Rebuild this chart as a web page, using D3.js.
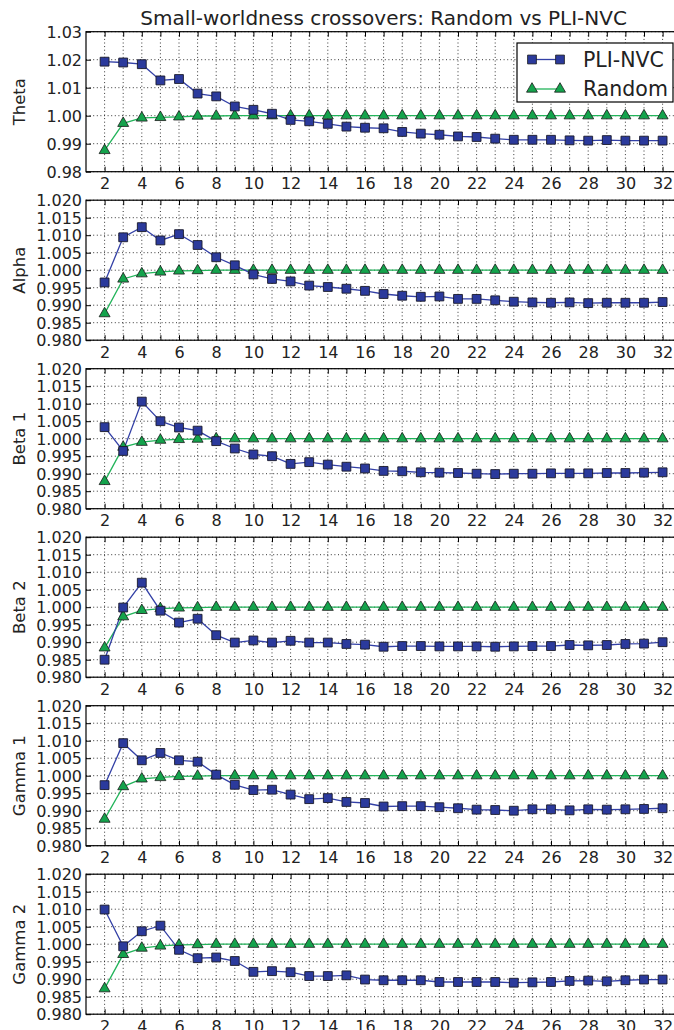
<!DOCTYPE html>
<html>
<head>
<meta charset="utf-8">
<script src="https://cdn.jsdelivr.net/npm/d3@7"></script>
<style>
  html, body { margin: 0; padding: 0; background: #fff; overflow: hidden; }
  svg { display: block; font-family: "DejaVu Sans", sans-serif; }
</style>
</head>
<body>
<div id="chart"></div>
<script>
(function () {
  'use strict';

  const title = 'Small-worldness crossovers: Random vs PLI-NVC';
  const xValues = d3.range(2, 33);
  const panelNames = ['Theta', 'Alpha', 'Beta 1', 'Beta 2', 'Gamma 1', 'Gamma 2'];

  const theta = [1.0193, 1.0190, 1.0184, 1.0126, 1.0131, 1.0079, 1.0069, 1.0033, 1.0021, 1.0007,
    0.9985, 0.9980, 0.9971, 0.9961, 0.9957, 0.9955, 0.9942, 0.9936, 0.9932, 0.9926,
    0.9924, 0.9918, 0.9914, 0.9914, 0.9914, 0.9912, 0.9911, 0.9913, 0.9911, 0.9911, 0.9911];
  const alpha = [0.9965, 1.0094, 1.0123, 1.0085, 1.0103, 1.0072, 1.0037, 1.0014, 0.9988, 0.9975,
    0.9968, 0.9956, 0.9952, 0.9947, 0.9941, 0.9932, 0.9927, 0.9924, 0.9925, 0.9918,
    0.9918, 0.9914, 0.9910, 0.9908, 0.9907, 0.9908, 0.9906, 0.9907, 0.9907, 0.9907, 0.9909];
  const beta1 = [1.0033, 0.9965, 1.0106, 1.0050, 1.0032, 1.0023, 0.9993, 0.9972, 0.9955, 0.9950,
    0.9928, 0.9933, 0.9926, 0.9920, 0.9915, 0.9908, 0.9907, 0.9904, 0.9903, 0.9902,
    0.9900, 0.9899, 0.9900, 0.9900, 0.9901, 0.9901, 0.9901, 0.9902, 0.9902, 0.9903, 0.9904];
  const beta2 = [0.9850, 0.9999, 1.0070, 0.9990, 0.9956, 0.9967, 0.9920, 0.9899, 0.9905, 0.9899,
    0.9904, 0.9899, 0.9899, 0.9895, 0.9893, 0.9887, 0.9889, 0.9889, 0.9888, 0.9888,
    0.9888, 0.9887, 0.9888, 0.9889, 0.9889, 0.9892, 0.9891, 0.9892, 0.9895, 0.9896, 0.9900];
  const gamma1 = [0.9973, 1.0093, 1.0044, 1.0065, 1.0044, 1.0040, 1.0003, 0.9974, 0.9959, 0.9960,
    0.9946, 0.9933, 0.9936, 0.9925, 0.9922, 0.9912, 0.9913, 0.9913, 0.9910, 0.9907,
    0.9903, 0.9902, 0.9900, 0.9904, 0.9904, 0.9901, 0.9904, 0.9903, 0.9904, 0.9905, 0.9907];
  const gamma2 = [1.0099, 0.9994, 1.0037, 1.0053, 0.9984, 0.9960, 0.9962, 0.9952, 0.9921, 0.9923,
    0.9920, 0.9909, 0.9909, 0.9911, 0.9899, 0.9897, 0.9897, 0.9897, 0.9892, 0.9892,
    0.9892, 0.9892, 0.9890, 0.9891, 0.9892, 0.9895, 0.9896, 0.9894, 0.9897, 0.9899, 0.9899];

  const randTheta = [0.9876, 0.9973, 0.9992, 0.9994, 0.9996, 0.9999, 0.9999, 1.0000, 1.0000, 1.0000,
    1.0000, 1.0000, 1.0000, 1.0000, 1.0000, 1.0000, 1.0000, 1.0000, 1.0000, 1.0000,
    1.0000, 1.0000, 1.0000, 1.0000, 1.0000, 1.0000, 1.0000, 1.0000, 1.0000, 1.0000, 1.0000];
  const randAlpha = [0.9876, 0.9975, 0.9990, 0.9995, 0.9998, 0.9999, 1.0000, 1.0000, 1.0000, 1.0000,
    1.0000, 1.0000, 1.0000, 1.0000, 1.0000, 1.0000, 1.0000, 1.0000, 1.0000, 1.0000,
    1.0000, 1.0000, 1.0000, 1.0000, 1.0000, 1.0000, 1.0000, 1.0000, 1.0000, 1.0000, 1.0000];
  const randBeta1 = [0.9878, 0.9976, 0.9990, 0.9996, 0.9998, 0.9999, 1.0000, 1.0000, 1.0000, 1.0000,
    1.0000, 1.0000, 1.0000, 1.0000, 1.0000, 1.0000, 1.0000, 1.0000, 1.0000, 1.0000,
    1.0000, 1.0000, 1.0000, 1.0000, 1.0000, 1.0000, 1.0000, 1.0000, 1.0000, 1.0000, 1.0000];
  const randBeta2 = [0.9884, 0.9973, 0.9991, 0.9996, 0.9998, 0.9999, 1.0000, 1.0000, 1.0000, 1.0000,
    1.0000, 1.0000, 1.0000, 1.0000, 1.0000, 1.0000, 1.0000, 1.0000, 1.0000, 1.0000,
    1.0000, 1.0000, 1.0000, 1.0000, 1.0000, 1.0000, 1.0000, 1.0000, 1.0000, 1.0000, 1.0000];
  const randGamma1 = [0.9876, 0.9969, 0.9991, 0.9995, 0.9998, 0.9999, 1.0000, 1.0000, 1.0000, 1.0000,
    1.0000, 1.0000, 1.0000, 1.0000, 1.0000, 1.0000, 1.0000, 1.0000, 1.0000, 1.0000,
    1.0000, 1.0000, 1.0000, 1.0000, 1.0000, 1.0000, 1.0000, 1.0000, 1.0000, 1.0000, 1.0000];
  const randGamma2 = [0.9873, 0.9971, 0.9989, 0.9995, 0.9998, 0.9999, 1.0000, 1.0000, 1.0000, 1.0000,
    1.0000, 1.0000, 1.0000, 1.0000, 1.0000, 1.0000, 1.0000, 1.0000, 1.0000, 1.0000,
    1.0000, 1.0000, 1.0000, 1.0000, 1.0000, 1.0000, 1.0000, 1.0000, 1.0000, 1.0000, 1.0000];

  const pliSeries = [theta, alpha, beta1, beta2, gamma1, gamma2];
  const randomSeries = [randTheta, randAlpha, randBeta1, randBeta2, randGamma1, randGamma2];

  const thetaTicks = [0.98, 0.99, 1.00, 1.01, 1.02, 1.03];
  const otherTicks = [0.980, 0.985, 0.990, 0.995, 1.000, 1.005, 1.010, 1.015, 1.020];

  const width = 674;
  const height = 1030;
  const left = 86;
  const unit = 18.6;
  const top0 = 31.7;
  const pitch = 168.5;
  const panelH = 140;

  const pliColor = '#2b3a9c';
  const pliLine = '#3340a6';
  const randColor = '#14a34c';
  const randLine = '#22b45a';

  const svg = d3.select('#chart')
    .append('svg')
    .attr('width', width)
    .attr('height', height);

  const xScale = d3.scaleLinear()
    .domain([1, 33])
    .range([left, left + 32 * unit]);

  svg.append('text')
    .attr('x', (xScale(1) + xScale(33)) / 2)
    .attr('y', 25)
    .attr('text-anchor', 'middle')
    .style('font-size', '20px')
    .attr('fill', '#222')
    .text(title);

  const square = d3.symbol().type(d3.symbolSquare).size(78);
  const triangle = d3.symbol().type(d3.symbolTriangle).size(52);

  panelNames.forEach(function (name, p) {
    const top = top0 + p * pitch;
    const isTheta = p === 0;
    const ticks = isTheta ? thetaTicks : otherTicks;
    const yScale = d3.scaleLinear()
      .domain(isTheta ? [0.98, 1.03] : [0.98, 1.02])
      .range([top + panelH, top]);
    const fmt = d3.format(isTheta ? '.2f' : '.3f');

    const g = svg.append('g');

    // dotted grid
    g.selectAll('.vgrid')
      .data(xValues)
      .enter()
      .append('line')
      .attr('x1', d => xScale(d)).attr('x2', d => xScale(d))
      .attr('y1', top).attr('y2', top + panelH)
      .attr('stroke', '#000').attr('stroke-width', 0.8)
      .attr('stroke-dasharray', '1,2.6');
    g.selectAll('.hgrid')
      .data(ticks)
      .enter()
      .append('line')
      .attr('x1', xScale(1)).attr('x2', xScale(33))
      .attr('y1', d => yScale(d)).attr('y2', d => yScale(d))
      .attr('stroke', '#000').attr('stroke-width', 0.8)
      .attr('stroke-dasharray', '1,2.6');

    // axes with inward ticks
    const xBottom = d3.axisBottom(xScale).tickValues(xValues).tickSizeInner(-5).tickSizeOuter(0)
      .tickPadding(6).tickFormat(d => (d % 2 === 0 ? d : ''));
    const xTop = d3.axisTop(xScale).tickValues(xValues).tickSizeInner(-5).tickSizeOuter(0).tickFormat('');
    const yLeft = d3.axisLeft(yScale).tickValues(ticks).tickSizeInner(-5).tickSizeOuter(0)
      .tickPadding(4).tickFormat(fmt);
    const yRight = d3.axisRight(yScale).tickValues(ticks).tickSizeInner(-5).tickSizeOuter(0).tickFormat('');

    const axes = [
      g.append('g').attr('transform', 'translate(0,' + (top + panelH) + ')').call(xBottom),
      g.append('g').attr('transform', 'translate(0,' + top + ')').call(xTop),
      g.append('g').attr('transform', 'translate(' + left + ',0)').call(yLeft),
      g.append('g').attr('transform', 'translate(' + xScale(33) + ',0)').call(yRight)
    ];
    axes.forEach(function (a) {
      a.select('.domain').remove();
      a.selectAll('line').attr('stroke', '#000').attr('stroke-width', 1);
      a.selectAll('text').attr('fill', '#222').style('font-size', '16px').attr('font-family', 'DejaVu Sans');
    });
    axes[2].selectAll('text').attr('dy', '0.36em');
    axes[0].selectAll('text').attr('dy', '0.71em');

    g.append('rect')
      .attr('x', left).attr('y', top)
      .attr('width', xScale(33) - left).attr('height', panelH)
      .attr('fill', 'none').attr('stroke', '#000').attr('stroke-width', 1.2);

    g.append('text')
      .attr('transform', 'translate(19,' + (top + panelH / 2) + ') rotate(-90)')
      .attr('text-anchor', 'middle')
      .attr('dy', '0.36em')
      .style('font-size', '16.5px')
      .attr('fill', '#222')
      .text(name);

    const line = d3.line().x((d, i) => xScale(xValues[i])).y(d => yScale(d));

    g.append('path')
      .datum(randomSeries[p])
      .attr('d', line)
      .attr('fill', 'none').attr('stroke', randLine).attr('stroke-width', 1.3);
    g.append('path')
      .datum(pliSeries[p])
      .attr('d', line)
      .attr('fill', 'none').attr('stroke', pliLine).attr('stroke-width', 1.3);

    g.selectAll('.rnd')
      .data(randomSeries[p])
      .enter()
      .append('path')
      .attr('d', triangle)
      .attr('transform', (d, i) => 'translate(' + xScale(xValues[i]) + ',' + yScale(d) + ')')
      .attr('fill', randColor).attr('stroke', '#1a1a1a').attr('stroke-width', 0.8);
    g.selectAll('.pli')
      .data(pliSeries[p])
      .enter()
      .append('path')
      .attr('d', square)
      .attr('transform', (d, i) => 'translate(' + xScale(xValues[i]) + ',' + yScale(d) + ')')
      .attr('fill', pliColor).attr('stroke', '#1a1a2a').attr('stroke-width', 0.9);
  });

  // legend
  const legend = svg.append('g');
  legend.append('rect')
    .attr('x', 517).attr('y', 43).attr('width', 156).attr('height', 59)
    .attr('fill', '#fff').attr('stroke', '#000').attr('stroke-width', 1.2);
  const legendItems = [
    { label: 'PLI-NVC', y: 59.5, color: pliLine, fill: pliColor, sym: square },
    { label: 'Random', y: 89, color: randLine, fill: randColor, sym: triangle }
  ];
  legendItems.forEach(function (it) {
    legend.append('line')
      .attr('x1', 532).attr('x2', 560).attr('y1', it.y).attr('y2', it.y)
      .attr('stroke', it.color).attr('stroke-width', 1.3);
    [532, 560].forEach(function (x) {
      legend.append('path')
        .attr('d', it.sym)
        .attr('transform', 'translate(' + x + ',' + it.y + ')')
        .attr('fill', it.fill).attr('stroke', '#1a1a1a').attr('stroke-width', 0.8);
    });
    legend.append('text')
      .attr('x', 583).attr('y', it.y).attr('dy', '0.36em')
      .style('font-size', '20.5px').attr('fill', '#222')
      .text(it.label);
  });
}());
</script>
</body>
</html>
